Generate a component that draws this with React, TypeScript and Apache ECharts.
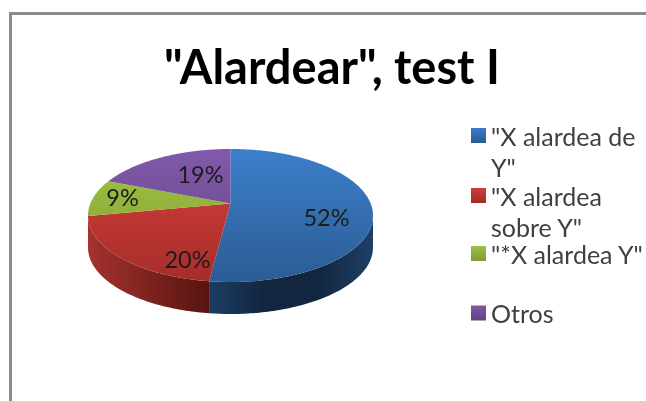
import React, { useEffect, useRef } from "react";
import * as echarts from "echarts";

const categories = ['"X alardea de Y"', '"X alardea sobre Y"', '"*X alardea Y"', "Otros"];
const legendLabels = ['"X alardea de\nY"', '"X alardea\nsobre Y"', '"*X alardea Y"', "Otros"];
const values = [52, 20, 9, 19];
const titleText = '"Alardear", test I';

const topStops = [
  ["#3c7fca", "#2b5c94"],
  ["#d8403c", "#a52d2a"],
  ["#a3c644", "#7d9a32"],
  ["#8259ab", "#5f4380"],
];
const sideStops: string[][] = [
  ["#1b3e66", "#12263f", "#12263f", "#1d4068"],
  ["#a5322e", "#8b2825", "#701e1a", "#591410"],
  ["#7d9a32", "#7d9a32", "#7d9a32", "#7d9a32"],
  ["#5f4380", "#5f4380", "#5f4380", "#5f4380"],
];
const legendStops = [
  ["#3b7cc6", "#2a5a90"],
  ["#cf3d39", "#a02c29"],
  ["#9dbf42", "#7f9c33"],
  ["#7f58a6", "#5f4380"],
];

const CX = 230.5, CY = 215.5, RX = 142.5, RY = 66.5, DEPTH = 32, TILT = -0.18;
const labelOffsets = [[96, 1], [-43, 43], [-108, -19], [-30, -42]];
const legendTops = [89, 149, 238, 297.5];

function project(deg: number) {
  const rad = (deg * Math.PI) / 180;
  const x = Math.sin(rad), y = -Math.cos(rad);
  const d = 1 + TILT * y;
  return { x: CX + RX * ((x * Math.sqrt(1 - TILT * TILT)) / d), y: CY + RY * ((y + TILT) / d), front: (y + TILT) / d };
}

function sliceAngles(i: number) {
  const total = values.reduce((a, b) => a + b, 0);
  const before = values.slice(0, i).reduce((a, b) => a + b, 0);
  return [(before / total) * 360, ((before + values[i]) / total) * 360];
}

const vGrad = (c: string[]) =>
  new echarts.graphic.LinearGradient(0, 0, 0, 1, [
    { offset: 0, color: c[0] },
    { offset: 1, color: c[1] },
  ]);

function renderSlice(params: any) {
  const i = params.seriesIndex;
  const [a0, a1] = sliceAngles(i);
  const arc: { x: number; y: number; front: number }[] = [];
  const steps = Math.ceil(a1 - a0);
  for (let s = 0; s <= steps; s++) arc.push(project(a0 + ((a1 - a0) * s) / steps));
  const apex = [CX, CY + RY * TILT];
  const topPts = [apex, ...arc.map((p) => [p.x, p.y])];
  const frontArc = arc.filter((p) => p.front >= -0.02);
  const children: any[] = [];
  if (frontArc.length > 1) {
    const upper = frontArc.map((p) => [p.x, p.y]);
    const lower = frontArc.map((p) => [p.x, p.y + DEPTH]).reverse();
    children.push({
      type: "polygon",
      shape: { points: [...upper, ...lower] },
      style: {
        fill: new echarts.graphic.LinearGradient(
          0, 0, 1, 0,
          sideStops[i].map((color, k) => ({ offset: k / 3, color }))
        ),
      },
    });
  }
  const g = new echarts.graphic.LinearGradient(0, CY - RY, 0, CY + RY, [
    { offset: 0, color: topStops[i][0] },
    { offset: 1, color: topStops[i][1] },
  ], true);
  children.push({ type: "polygon", shape: { points: topPts }, style: { fill: g } });
  children.push({
    type: "text",
    z2: 10,
    style: {
      text: `${values[i]}%`,
      x: CX + labelOffsets[i][0],
      y: CY + labelOffsets[i][1],
      align: "center",
      verticalAlign: "middle",
      font: "23.5px Lato",
      fill: "#1c1c1c",
    },
  });
  return { type: "group", children };
}

export default function App() {
  const ref = useRef<HTMLDivElement>(null);
  useEffect(() => {
    document.body.style.margin = "0";
    const chart = echarts.init(ref.current!, undefined, { renderer: "svg" });
    chart.setOption({
      animation: false,
      backgroundColor: "#ffffff",
      title: {
        text: titleText,
        left: 327,
        top: 37,
        textAlign: "center",
        textStyle: { fontFamily: "Lato", fontWeight: "bold", fontSize: 47, color: "#000000" },
      },
      legend: categories.map((name, i) => ({
        data: [{ name, itemStyle: { color: vGrad(legendStops[i]) }, icon: "rect" }],
        orient: "vertical",
        left: 471,
        top: legendTops[i],
        padding: 0,
        itemWidth: 15,
        itemHeight: 15,
        selectedMode: false,
        // a leading empty line keeps the swatch level with the first line of a wrapped entry
        formatter: () => (legendLabels[i].includes("\n") ? "\n" + legendLabels[i] : legendLabels[i]),
        textStyle: {
          fontFamily: "Lato",
          fontSize: 25,
          lineHeight: 31,
          color: "#404040",
        },
      })),
      graphic: [
        {
          type: "polyline",
          shape: { points: [[10.5, 401], [10.5, 13.5], [646, 13.5]] },
          style: { stroke: "#8c8c8c", lineWidth: 3, fill: "none" },
        },
      ],
      series: categories.map((name, i) => ({
        type: "custom",
        name,
        coordinateSystem: "none",
        data: [[values[i]]],
        renderItem: renderSlice,
        itemStyle: { color: topStops[i][0] },
      })),
    });
    return () => chart.dispose();
  }, []);
  return <div ref={ref} style={{ width: 646, height: 401, filter: "blur(0.5px)" }} />;
}
